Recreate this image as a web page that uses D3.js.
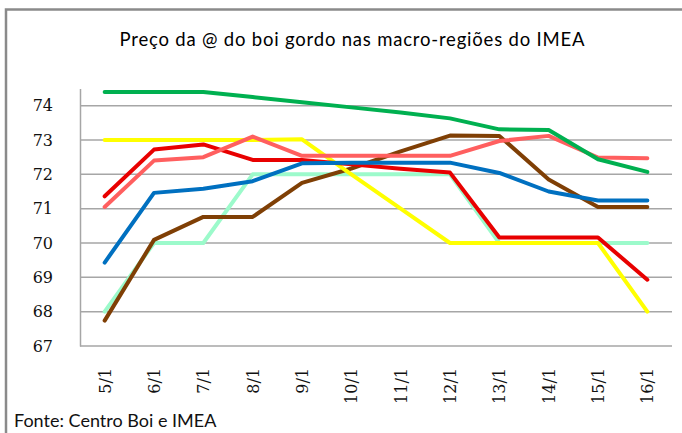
<!DOCTYPE html>
<html>
<head>
<meta charset="utf-8">
<script src="https://cdn.jsdelivr.net/npm/d3@7/dist/d3.min.js"></script>
<style>
  body { margin: 0; background: #fff; }
  svg { display: block; }
</style>
</head>
<body>
<div id="chart"></div>
<script>
// dates (day/month)
var dates = ["5/1", "6/1", "7/1", "8/1", "9/1", "10/1", "11/1", "12/1", "13/1", "14/1", "15/1", "16/1"];
var yTicks = [67, 68, 69, 70, 71, 72, 73, 74];

// one array per line (R$/@)
var mintLine   = [68.0, 70.0, 70.0, 72.0, 72.0, 72.0, 72.0, 72.0, 70.0, 70.0, 70.0, 70.0];
var brownLine  = [67.74, 70.09, 70.76, 70.76, 71.75, 72.17, 72.67, 73.13, 73.12, 71.85, 71.05, 71.05];
var yellowLine = [73.0, 73.0, 73.0, 73.0, 73.02, 72.0, 71.0, 70.0, 70.0, 70.0, 70.0, 68.0];
var redLine    = [71.36, 72.72, 72.87, 72.42, 72.42, 72.29, 72.16, 72.05, 70.16, 70.16, 70.16, 68.93];
var blueLine   = [69.43, 71.46, 71.58, 71.8, 72.32, 72.34, 72.34, 72.34, 72.04, 71.5, 71.24, 71.24];
var salmonLine = [71.05, 72.4, 72.5, 73.1, 72.54, 72.54, 72.54, 72.54, 72.97, 73.12, 72.49, 72.47];
var greenLine  = [74.4, 74.4, 74.4, 74.25, 74.1, 73.95, 73.8, 73.63, 73.31, 73.29, 72.44, 72.07];

var series = [
  { values: mintLine,   color: "#9CFACB" },
  { values: brownLine,  color: "#7F3F05" },
  { values: yellowLine, color: "#FFFF00" },
  { values: redLine,    color: "#E80000" },
  { values: blueLine,   color: "#0070C0" },
  { values: salmonLine, color: "#FF5F5F" },
  { values: greenLine,  color: "#00B050" }
];

var width = 682;
var height = 433;
var plot = { left: 80, right: 672, top: 88.5, bottom: 346 };

var svg = d3.select("#chart")
  .append("svg")
  .attr("width", width)
  .attr("height", height);

/* frame of the chart box */
svg.append("path")
  .attr("d", "M6,433 V9.5 H682")
  .attr("fill", "none")
  .attr("stroke", "#8a8a8a")
  .attr("stroke-width", 2.5);

/* Scale */
var xScale = d3.scalePoint()
  .domain(dates)
  .range([plot.left, plot.right])
  .padding(0.5);

var yScale = d3.scaleLinear()
  .domain([67, 74.5])
  .range([plot.bottom, plot.top]);

/* gridlines */
svg.append("g")
  .attr("class", "grid")
  .selectAll("line")
  .data(yTicks.filter(d => d > 67)).enter()
  .append("line")
  .attr("x1", plot.left)
  .attr("x2", plot.right)
  .attr("y1", d => yScale(d))
  .attr("y2", d => yScale(d))
  .attr("stroke", "#a6a6a6")
  .attr("stroke-width", 1.5);

/* axes */
var yAxis = d3.axisLeft(yScale).tickValues(yTicks).tickSize(0).tickPadding(27);
var gy = svg.append("g")
  .attr("transform", `translate(${plot.left},0)`)
  .call(yAxis);
gy.select(".domain").attr("stroke", "#a6a6a6").attr("stroke-width", 1.5);
gy.selectAll("text")
  .attr("fill", "#111")
  .style("font-family", "DejaVu Serif")
  .style("font-size", "16px");

var xAxis = d3.axisBottom(xScale).tickSize(0).tickPadding(0);
var gx = svg.append("g")
  .attr("transform", `translate(0,${plot.bottom})`)
  .call(xAxis);
gx.select(".domain").attr("d", `M${plot.left},0H${plot.right}`)
  .attr("stroke", "#a6a6a6").attr("stroke-width", 1.5);
gx.selectAll("text")
  .attr("fill", "#111")
  .attr("transform", "rotate(-90)")
  .attr("text-anchor", "end")
  .attr("x", -22)
  .attr("y", 0)
  .attr("dy", "0.35em")
  .style("font-family", "DejaVu Serif")
  .style("font-size", "16px");

/* lines */
var line = d3.line()
  .x((d, i) => xScale(dates[i]))
  .y(d => yScale(d));

svg.append("g")
  .attr("class", "lines")
  .selectAll("path")
  .data(series).enter()
  .append("path")
  .attr("d", d => line(d.values))
  .attr("fill", "none")
  .attr("stroke", d => d.color)
  .attr("stroke-width", 4)
  .attr("stroke-linejoin", "round")
  .attr("stroke-linecap", "round");

/* title and source */
svg.append("text")
  .attr("x", 352)
  .attr("y", 46)
  .attr("text-anchor", "middle")
  .attr("textLength", 465)
  .attr("lengthAdjust", "spacing")
  .style("font-family", "Lato")
  .style("font-size", "18.5px")
  .attr("fill", "#000")
  .text("Preço da @ do boi gordo nas macro-regiões do IMEA");

svg.append("text")
  .attr("x", 14)
  .attr("y", 427)
  .style("font-family", "Lato")
  .style("font-size", "18px")
  .attr("fill", "#111")
  .text("Fonte: Centro Boi e IMEA");
</script>
</body>
</html>
